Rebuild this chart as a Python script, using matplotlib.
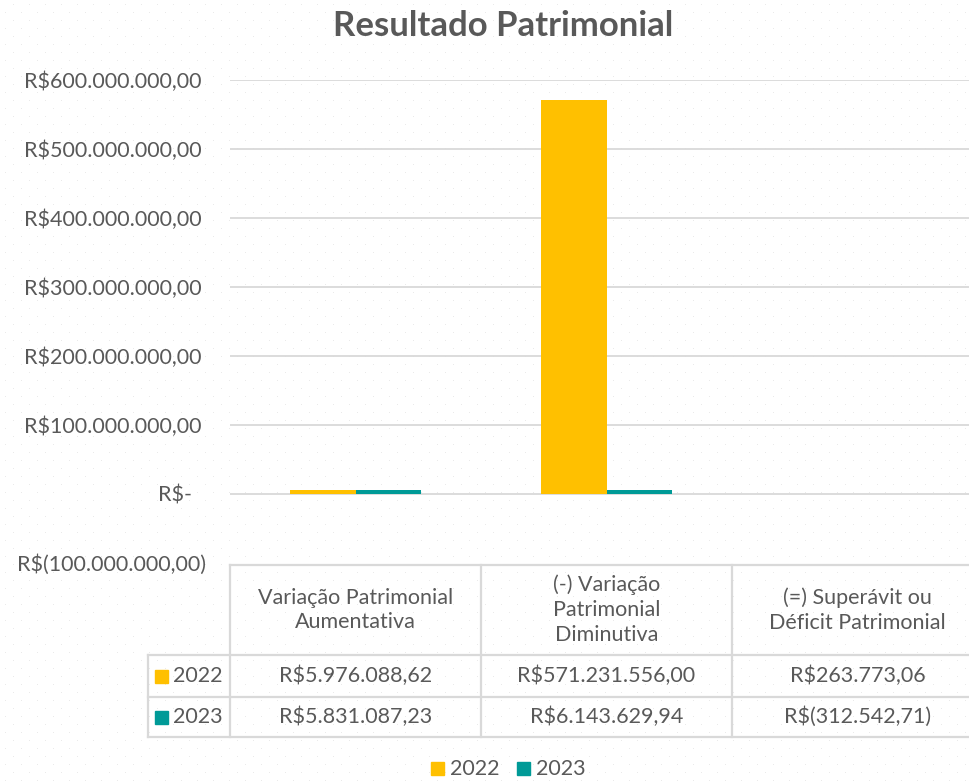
import matplotlib.pyplot as plt
import matplotlib.transforms as mtransforms
import numpy as np

plt.rcParams['font.family'] = ['Lato', 'DejaVu Sans']

# data
categories = ['Variação Patrimonial\nAumentativa',
              '(-) Variação\nPatrimonial\nDiminutiva',
              '(=) Superávit ou\nDéficit Patrimonial']
series_names = ['2022', '2023']
values_2022 = [5976088.62, 571231556.00, 263773.06]
values_2023 = [5831087.23, 6143629.94, -312542.71]
yticks = [-100e6, 0, 100e6, 200e6, 300e6, 400e6, 500e6, 600e6]

colors = ['#FFC000', '#009A97']
text_c = '#595959'
line_c = '#D9D9D9'


def brl(v):
    # Excel style accounting: R$1.234,56 / R$(1.234,56) / R$-
    if v == 0:
        return 'R$-'
    s = f'{abs(v):,.2f}'.replace(',', 'X').replace('.', ',').replace('X', '.')
    return f'R$({s})' if v < 0 else f'R${s}'


W, H = 969, 781
fig = plt.figure(figsize=(W / 100, H / 100), dpi=100)

# faint dotted background like the Excel chart area
bg = np.ones((H, W, 3))
for r in range(0, H, 8):
    off = 0 if (r // 8) % 2 == 0 else 8
    bg[H - 1 - r, 5 + off::16] = 0.92
fig.figimage(bg, 0, 0, zorder=0)


def fx(px):
    return px / W


def fy(py):
    return 1 - py / H


# plot area runs a bit past the right edge of the picture (clipped in the original)
ax = fig.add_axes([fx(230), fy(563), 753 / W, 483 / H])
ax.set_zorder(2)
ax.patch.set_alpha(0)

x = np.arange(len(categories))
bw = 0.259
ax.bar(x - bw / 2, values_2022, bw, color=colors[0], zorder=3)
ax.bar(x + bw / 2, values_2023, bw, color=colors[1], zorder=3)

ax.set_xlim(-0.5, 2.5)
ax.set_ylim(-100e6, 600e6)
ax.set_yticks([])
ax.set_xticks([])
for v in yticks[1:]:
    ax.axhline(v, color=line_c, lw=1.3, zorder=1)
for s in ax.spines.values():
    s.set_visible(False)

# accounting-style axis labels: ")" hangs right, "R$-" sits a bit left
trans = mtransforms.blended_transform_factory(fig.transFigure, ax.transData)
for v in yticks:
    xr = 206 if v < 0 else (192 if v == 0 else 202)
    ax.text(fx(xr), v, brl(v), transform=trans, ha='right', va='center_baseline',
            fontsize=15.5, color=text_c, clip_on=False)

fig.text(fx(503), fy(36), 'Resultado Patrimonial', ha='center', va='baseline',
         fontsize=25, fontweight='bold', color=text_c, zorder=3)

# data table under the axis
col_edges = [230, 481, 732, 983]
row_edges = [565, 655, 697, 737]
lkw = dict(color=line_c, lw=1.6, transform=fig.transFigure, zorder=3)
fig.add_artist(plt.Line2D([fx(230), fx(969)], [fy(565), fy(565)], **lkw))
for ry in row_edges[1:]:
    fig.add_artist(plt.Line2D([fx(148), fx(969)], [fy(ry), fy(ry)], **lkw))
for cx in col_edges[:-1]:
    fig.add_artist(plt.Line2D([fx(cx), fx(cx)], [fy(565), fy(737)], **lkw))
fig.add_artist(plt.Line2D([fx(148), fx(148)], [fy(655), fy(737)], **lkw))

for i, cat in enumerate(categories):
    cx = (col_edges[i] + col_edges[i + 1]) / 2
    fig.text(fx(cx), fy(610), cat, ha='center', va='center', fontsize=15.5,
             color=text_c, linespacing=1.3, zorder=3)
    for j, vals in enumerate([values_2022, values_2023]):
        cy = (row_edges[j + 1] + row_edges[j + 2]) / 2
        fig.text(fx(cx), fy(cy), brl(vals[i]), ha='center', va='center',
                 fontsize=15.5, color=text_c, zorder=3)

for j, name in enumerate(series_names):
    cy = (row_edges[j + 1] + row_edges[j + 2]) / 2
    fig.add_artist(plt.Rectangle((fx(155), fy(cy + 6.5)), 13 / W, 13 / H, zorder=3,
                                 color=colors[j], transform=fig.transFigure))
    fig.text(fx(173), fy(cy), name, ha='left', va='center', fontsize=15.5,
             color=text_c, zorder=3)

# legend at the bottom
for j, (name, lx) in enumerate(zip(series_names, [431, 517])):
    fig.add_artist(plt.Rectangle((fx(lx), fy(775)), 13 / W, 13 / H, zorder=3,
                                 color=colors[j], transform=fig.transFigure))
    fig.text(fx(lx + 19), fy(775), name, ha='left', va='baseline', fontsize=15.5,
             color=text_c, zorder=3)

fig.savefig('out.png', dpi=100)
